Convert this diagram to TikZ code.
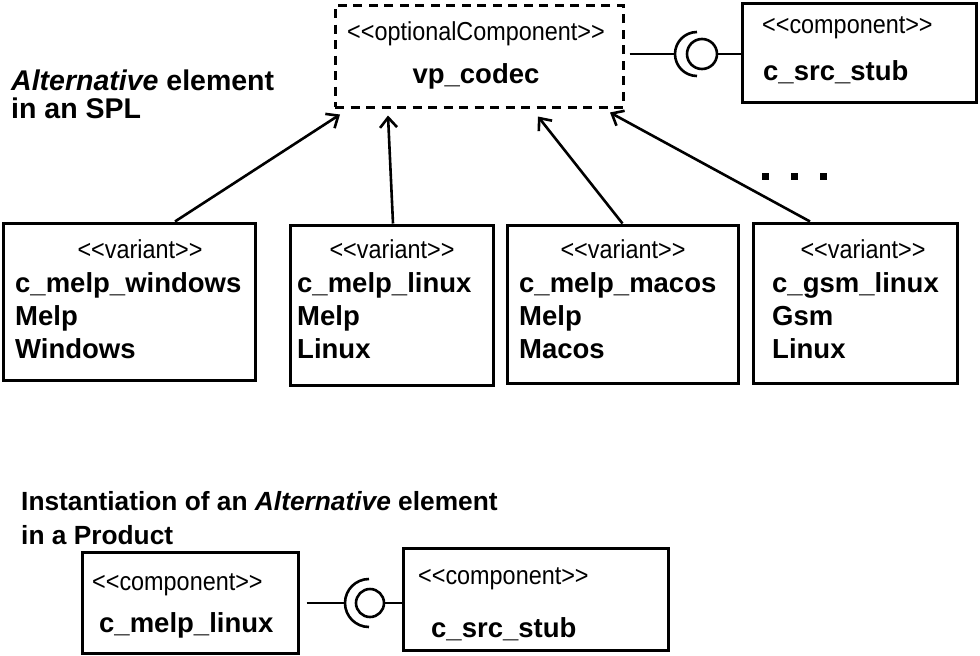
\documentclass[tikz,border=0pt]{standalone}
\usepackage{fontspec}
\setmainfont{Liberation Sans}
\newfontfamily\stfont[FakeStretch=0.9]{Liberation Sans}
\usetikzlibrary{arrows.meta,calc}
\newcommand{\stq}[1]{<{}<#1>{}>}
\begin{document}
\begin{tikzpicture}[x=1pt,y=-1pt,
  box/.style={draw,line width=3pt,inner sep=0pt},
  dbox/.style={draw,line width=3pt,inner sep=0pt,dash pattern=on 9pt off 6.5pt},
  st/.style={inner sep=0pt,font=\stfont\fontsize{26}{28}\selectfont},
  nm/.style={inner sep=0pt,font=\fontsize{27.5}{30}\selectfont\bfseries},
  hd/.style={inner sep=0pt,font=\fontsize{26.3}{30}\selectfont\bfseries,align=left},
  hdb/.style={inner sep=0pt,font=\fontsize{28.5}{30}\selectfont\bfseries,align=left},
  arr/.style={line width=2.6pt,-{Straight Barb[length=10pt,width=17pt,line width=2.6pt]}},
  lnk/.style={line width=2.6pt}]
\useasboundingbox[fill=white] (0,0) rectangle (980,656);

% top part
\node[dbox,minimum width=288pt,minimum height=102pt] (vp) at (479,56) {};
\node[st,anchor=base] (vpst) at (476,40) {\stq{optionalComponent}};
\node[nm,anchor=base] (vpnm) at (476,83) {vp\_codec};

\node[box,minimum width=234pt,minimum height=99pt] (src) at (859,52.5) {};
\node[st,anchor=base west] (srcst) at (762,33) {\stq{component}};
\node[nm,anchor=base west] (srcnm) at (763,80) {c\_src\_stub};

% interface top
\node[circle,draw,line width=2.6pt,minimum size=30pt,inner sep=0pt] (ball1) at (702,54) {};
\coordinate (sc1) at ($(ball1)+(-5,0)$);
\draw[lnk] (ball1.east) -- (src.west |- ball1.east);
\draw[lnk] ($(sc1)+(0,22)$) arc (90:270:22);
\coordinate (sock1) at ($(sc1)+(-22,0)$);
\draw[lnk] (vp.east |- sock1) ++(5,0) -- (sock1);

\node[hdb,anchor=base west] (h1a) at (11,90) {\textit{Alternative} element};
\node[hdb,anchor=base west] (h1b) at (11,118) {in an SPL};

% variants
\node[box,minimum width=252pt,minimum height=157pt] (v1) at (129,301.5) {};
\node[box,minimum width=203pt,minimum height=160pt] (v2) at (391.5,305) {};
\node[box,minimum width=231pt,minimum height=158pt] (v3) at (622.5,304) {};
\node[box,minimum width=204pt,minimum height=160pt] (v4) at (855,303) {};

\node[st,anchor=base] (v1s) at (140,258) {\stq{variant}};
\node[nm,anchor=base west] (v1a) at (15,292) {c\_melp\_windows};
\node[nm,anchor=base west] (v1b) at (15,325) {Melp};
\node[nm,anchor=base west] (v1c) at (15,358) {Windows};

\node[st,anchor=base] (v2s) at (392,258) {\stq{variant}};
\node[nm,anchor=base west] (v2a) at (297,292) {c\_melp\_linux};
\node[nm,anchor=base west] (v2b) at (297,325) {Melp};
\node[nm,anchor=base west] (v2c) at (297,358) {Linux};

\node[st,anchor=base] (v3s) at (623,258) {\stq{variant}};
\node[nm,anchor=base west] (v3a) at (519,292) {c\_melp\_macos};
\node[nm,anchor=base west] (v3b) at (519,325) {Melp};
\node[nm,anchor=base west] (v3c) at (519,358) {Macos};

\node[st,anchor=base] (v4s) at (863,258) {\stq{variant}};
\node[nm,anchor=base west] (v4a) at (772,292) {c\_gsm\_linux};
\node[nm,anchor=base west] (v4b) at (772,325) {Gsm};
\node[nm,anchor=base west] (v4c) at (772,358) {Linux};

\draw[arr] ([xshift=46pt]v1.north) -- ([xshift=-139pt,yshift=-6pt]vp.south);
\draw[arr] ([xshift=1.5pt]v2.north) -- ([xshift=-91pt,yshift=-7pt]vp.south);
\draw[arr] ([xshift=0pt]v3.north) -- ([xshift=59pt,yshift=-8pt]vp.south);
\draw[arr] ([xshift=-45pt]v4.north) -- ([xshift=131pt,yshift=-4pt]vp.south);

% dots
\fill (762,173) rectangle (769,180);
\fill (791,173) rectangle (798,180);
\fill (820,173) rectangle (827,180);

% bottom part
\node[hd,anchor=base west] (h2a) at (21,510) {Instantiation of an \textit{Alternative} element};
\node[hd,anchor=base west] (h2b) at (21,544) {in a Product};

\node[box,minimum width=216pt,minimum height=101pt] (b1) at (190,602.5) {};
\node[st,anchor=base west] (b1s) at (92,590) {\stq{component}};
\node[nm,anchor=base west] (b1n) at (99,632) {c\_melp\_linux};

\node[box,minimum width=265pt,minimum height=102pt] (b2) at (535.5,599) {};
\node[st,anchor=base west] (b2s) at (418,584) {\stq{component}};
\node[nm,anchor=base west] (b2n) at (431,637) {c\_src\_stub};

\node[circle,draw,line width=2.6pt,minimum size=28pt,inner sep=0pt] (ball2) at (370,603) {};
\coordinate (sc2) at ($(ball2)+(-1,0)$);
\draw[lnk] (ball2.east) -- (b2.west |- ball2.east);
\draw[lnk] ($(sc2)+(0,24)$) arc (90:270:24);
\coordinate (sock2) at ($(sc2)+(-24,0)$);
\draw[lnk] (b1.east |- sock2) ++(7,0) -- (sock2);
\end{tikzpicture}
\end{document}
